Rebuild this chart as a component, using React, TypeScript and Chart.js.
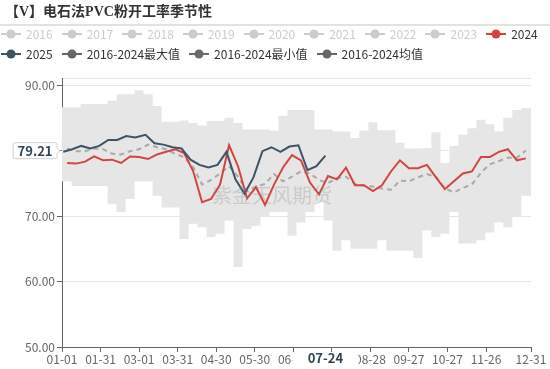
import React, { useEffect, useRef } from 'react';
import { Chart, registerables } from 'chart.js';

Chart.register(...registerables);

// ---------- data ----------
const titleText = '【V】电石法PVC粉开工率季节性';
const watermarkText = '紫金天风期货';

const legendRow1 = ['2016', '2017', '2018', '2019', '2020', '2021', '2022', '2023', '2024'];
const legendRow2 = ['2025', '2016-2024最大值', '2016-2024最小值', '2016-2024均值'];

const weeks2024 = [
  '01-05', '01-12', '01-19', '01-26', '02-02', '02-09', '02-16', '02-23', '03-01', '03-08',
  '03-15', '03-22', '03-29', '04-05', '04-12', '04-19', '04-26', '05-03', '05-10', '05-17',
  '05-24', '05-31', '06-07', '06-14', '06-21', '06-28', '07-05', '07-12', '07-19', '07-26',
  '08-02', '08-09', '08-16', '08-23', '08-30', '09-06', '09-13', '09-20', '09-27', '10-04',
  '10-11', '10-18', '10-25', '11-01', '11-08', '11-15', '11-22', '11-29', '12-06', '12-13',
  '12-20', '12-27',
];
const values2024 = [
  78.1, 78.0, 78.3, 79.1, 78.5, 78.6, 78.1, 79.1, 79.0, 78.7,
  79.4, 79.8, 80.2, 79.6, 76.9, 72.1, 72.6, 74.8, 80.8, 77.6,
  72.7, 74.4, 71.7, 74.8, 77.4, 79.3, 78.5, 75.1, 73.3, 76.1,
  75.6, 77.4, 74.7, 74.7, 73.8, 74.7, 76.8, 78.5, 77.3, 77.3,
  77.8, 75.9, 74.1, 75.3, 76.5, 76.8, 79.0, 79.0, 79.8, 80.2,
  78.5, 78.8,
];

const weeks2025 = [
  '01-02', '01-09', '01-16', '01-23', '01-30', '02-06', '02-13', '02-20', '02-27', '03-06',
  '03-13', '03-20', '03-27', '04-03', '04-10', '04-17', '04-24', '05-01', '05-08', '05-15',
  '05-22', '05-29', '06-05', '06-12', '06-19', '06-26', '07-03', '07-10', '07-17', '07-24',
];
const values2025 = [
  79.8, 80.2, 80.7, 80.3, 80.7, 81.6, 81.6, 82.2, 82.0, 82.4,
  81.1, 80.9, 80.5, 80.3, 78.6, 77.8, 77.4, 77.8, 79.8, 75.6,
  73.4, 75.9, 79.9, 80.5, 79.8, 80.6, 80.8, 77.0, 77.6, 79.21,
];

const avgValues = [
  80.3, 79.9, 79.9, 80.3, 80.2, 79.5, 79.4, 79.9, 80.2, 80.9,
  80.5, 80.2, 79.5, 79.0, 77.5, 74.8, 75.5, 76.5, 77.6, 76.0,
  73.8, 74.5, 74.9, 76.4, 75.3, 76.0, 76.8, 76.5, 75.5, 75.0,
  75.8, 76.0, 74.9, 74.6, 74.5, 74.2, 74.0, 75.4, 75.3, 75.9,
  76.4, 76.0, 74.2, 73.6, 74.3, 74.8, 76.6, 77.9, 78.4, 78.9,
  78.9, 80.0,
];

const bandStart = '01-01';
const bandEnd = '12-31';
const maxValues = [
  86.6, 86.6, 86.6, 87.1, 87.1, 87.1, 87.6, 88.6, 88.6, 89.2, 88.6,
  86.8, 84.4, 84.4, 84.6, 84.2, 83.8, 84.5, 84.5, 85.0, 84.2,
  83.2, 83.2, 83.2, 83.0, 85.3, 86.2, 86.2, 86.2, 83.2, 83.2,
  82.9, 82.9, 81.9, 83.0, 84.3, 83.1, 83.1, 81.2, 80.3, 80.3,
  80.4, 82.8, 78.1, 80.7, 82.4, 83.4, 84.7, 84.0, 82.9, 85.0,
  86.2, 86.5, 86.5,
];
const minValues = [
  75.3, 75.3, 74.6, 74.6, 74.6, 74.6, 71.8, 70.6, 72.6, 75.3, 75.3,
  73.1, 71.3, 71.3, 66.5, 68.8, 68.3, 66.8, 67.3, 69.3, 62.2,
  68.0, 68.5, 70.0, 70.6, 70.6, 67.0, 69.0, 70.6, 72.1, 69.3,
  64.7, 66.3, 65.0, 65.0, 65.0, 66.3, 64.7, 64.7, 64.7, 63.6,
  67.8, 66.8, 67.3, 70.6, 65.8, 65.8, 66.3, 67.5, 69.0, 68.3,
  70.0, 73.1, 73.1,
];

const xTickDays = [0, 30, 60, 90, 120, 150, 180, 210, 240, 270, 300, 330, 365];
const yTickValues = [50, 60, 70, 80, 90];
const yMin = 50;
const yMax = 91.07;

// ---------- helpers ----------
const DAY = 86400000;
const toDay = (mmdd: string) => {
  const [m, d] = mmdd.split('-').map(Number);
  return Math.round((Date.UTC(2024, m - 1, d) - Date.UTC(2024, 0, 1)) / DAY);
};
const dayLabel = (day: number) => {
  const dt = new Date(Date.UTC(2024, 0, 1) + Math.round(day) * DAY);
  return `${String(dt.getUTCMonth() + 1).padStart(2, '0')}-${String(dt.getUTCDate()).padStart(2, '0')}`;
};
const pts = (dates: string[], vals: number[]) => dates.map((d, i) => ({ x: toDay(d), y: vals[i] }));

const FONT = '"Noto Sans CJK SC", "Noto Sans", sans-serif';
const C2024 = '#d4443f';
const C2025 = '#3d5366';
const CAVG = '#a9a9a9';
const CBAND = '#e6e6e6';
const CHIDDEN = '#cccccc';

const overlayPlugin = {
  id: 'overlay',
  afterDatasetsDraw(chart: any) {
    const { ctx, chartArea } = chart;
    ctx.save();
    ctx.font = `20px ${FONT}`;
    ctx.fillStyle = 'rgba(140,140,140,0.3)';
    ctx.textAlign = 'center';
    ctx.textBaseline = 'middle';
    const x = chartArea.left + (chartArea.right - chartArea.left) * 0.448;
    const y = chartArea.top + (chartArea.bottom - chartArea.top) * 0.435;
    ctx.fillText(watermarkText, x, y);
    ctx.restore();
  },
  afterDraw(chart: any) {
    const { ctx, chartArea, scales } = chart;
    const lastVal = values2025[values2025.length - 1];
    const lastDate = weeks2025[weeks2025.length - 1];
    ctx.save();
    // y-axis value label
    const yy = scales.y.getPixelForValue(lastVal) - 5;
    const txt = lastVal.toFixed(2);
    ctx.font = `bold 13px ${FONT}`;
    const tw = ctx.measureText(txt).width;
    const right = chartArea.left - 5;
    const left = right - tw - 9;
    const h = 16;
    const top = yy - h / 2;
    const r = 2;
    ctx.beginPath();
    ctx.moveTo(left + r, top);
    ctx.lineTo(right - r, top);
    ctx.quadraticCurveTo(right, top, right, top + r);
    ctx.lineTo(right, yy - 3);
    ctx.lineTo(right + 3, yy);
    ctx.lineTo(right, yy + 3);
    ctx.lineTo(right, top + h - r);
    ctx.quadraticCurveTo(right, top + h, right - r, top + h);
    ctx.lineTo(left + r, top + h);
    ctx.quadraticCurveTo(left, top + h, left, top + h - r);
    ctx.lineTo(left, top + r);
    ctx.quadraticCurveTo(left, top, left + r, top);
    ctx.closePath();
    ctx.fillStyle = '#ffffff';
    ctx.fill();
    ctx.strokeStyle = '#d0d0d0';
    ctx.lineWidth = 1;
    ctx.stroke();
    ctx.fillStyle = '#2f4554';
    ctx.textAlign = 'center';
    ctx.textBaseline = 'middle';
    ctx.fillText(txt, (left + right) / 2, yy + 0.5);

    // x-axis date label
    const xx = scales.x.getPixelForValue(toDay(lastDate));
    ctx.fillStyle = '#ffffff';
    ctx.fillRect(xx - 33, chartArea.bottom + 5.5, 66, 16);
    ctx.font = `bold 13px ${FONT}`;
    ctx.fillStyle = '#2f4554';
    ctx.fillText(lastDate, xx, chartArea.bottom + 11);
    ctx.restore();
  },
};

const LegendItem = ({ label, color, textColor }: { label: string; color: string; textColor: string }) => (
  <div style={{ display: 'flex', alignItems: 'center', marginRight: 9, whiteSpace: 'nowrap', flexShrink: 0 }}>
    <svg width={20} height={14} style={{ marginRight: 5, display: 'block' }}>
      <line x1={0} y1={7} x2={20} y2={7} stroke={color} strokeWidth={2} />
      <circle cx={10} cy={7} r={4.5} fill={color} />
    </svg>
    <span style={{ fontSize: 12, color: textColor, lineHeight: '14px', fontFamily: FONT }}>{label}</span>
  </div>
);

const row1Color = (y: string) => (y === '2024' ? C2024 : CHIDDEN);
const row2Colors: Record<string, string> = {
  '2025': C2025,
  '2016-2024最大值': '#666666',
  '2016-2024最小值': '#6a6a6a',
  '2016-2024均值': '#666666',
};

export default function App() {
  const canvasRef = useRef<HTMLCanvasElement | null>(null);

  useEffect(() => {
    const canvas = canvasRef.current;
    if (!canvas) return;
    const bandDates = [bandStart, ...weeks2024, bandEnd];
    const chart = new Chart(canvas, {
      type: 'line',
      data: {
        datasets: [
          {
            label: '2025',
            data: pts(weeks2025, values2025),
            borderColor: C2025,
            borderWidth: 2,
            pointRadius: 0,
            fill: false,
            order: 1,
          },
          {
            label: '2024',
            data: pts(weeks2024, values2024),
            borderColor: C2024,
            borderWidth: 2,
            pointRadius: 0,
            fill: false,
            order: 2,
          },
          {
            label: '2016-2024均值',
            data: pts(weeks2024, avgValues),
            borderColor: CAVG,
            borderWidth: 2,
            borderDash: [5, 4],
            pointRadius: 0,
            fill: false,
            order: 3,
          },
          {
            label: '2016-2024最大值',
            data: pts(bandDates, maxValues),
            stepped: 'middle',
            borderColor: 'transparent',
            borderWidth: 0,
            pointRadius: 0,
            fill: false,
            order: 4,
          },
          {
            label: '2016-2024最小值',
            data: pts(bandDates, minValues),
            stepped: 'middle',
            borderColor: 'transparent',
            borderWidth: 0,
            pointRadius: 0,
            backgroundColor: CBAND,
            fill: '-1',
            order: 5,
          },
        ] as any,
      },
      options: {
        animation: false,
        responsive: false,
        devicePixelRatio: 1,
        layout: { padding: { top: 78, right: 19, left: 0, bottom: 0 } },
        plugins: {
          legend: { display: false },
          tooltip: { enabled: false },
          title: { display: false },
        },
        scales: {
          x: {
            type: 'linear',
            min: 0,
            max: 365,
            afterBuildTicks: (s: any) => {
              s.ticks = xTickDays.map((v) => ({ value: v }));
            },
            afterFit: (s: any) => {
              s.height = 22;
            },
            ticks: {
              autoSkip: false,
              maxRotation: 0,
              padding: 0,
              color: '#666666',
              font: { family: FONT, size: 12 },
              callback: (v: any) => dayLabel(Number(v)),
            },
            grid: {
              drawOnChartArea: false,
              drawTicks: true,
              tickLength: 5,
              tickColor: '#666666',
            },
            border: { display: true, color: '#666666', width: 1 },
          },
          y: {
            type: 'linear',
            min: yMin,
            max: yMax,
            afterBuildTicks: (s: any) => {
              s.ticks = [...yTickValues, yMax].map((v) => ({ value: v }));
            },
            afterFit: (s: any) => {
              s.width = 62;
            },
            ticks: {
              padding: 2,
              color: '#666666',
              font: { family: FONT, size: 12 },
              callback: (v: any) => (yTickValues.includes(Number(v)) ? Number(v).toFixed(2) : ''),
            },
            grid: {
              color: '#e6e6e6',
              lineWidth: 1,
              drawTicks: true,
              tickLength: 5,
              tickColor: (c: any) => (yTickValues.includes(c.tick?.value) ? '#666666' : 'transparent'),
            },
            border: { display: true, color: '#666666', width: 1 },
          },
        },
      } as any,
      plugins: [overlayPlugin],
    });
    return () => chart.destroy();
  }, []);

  return (
    <div style={{ position: 'fixed', left: 0, top: 0, width: 550, height: 369, background: '#fff', overflow: 'hidden' }}>
      <canvas ref={canvasRef} width={550} height={369} style={{ display: 'block', position: 'absolute', left: 0, top: 0 }} />
      <div
        style={{
          position: 'absolute',
          left: 5,
          top: 3,
          fontSize: 14,
          lineHeight: '18px',
          fontWeight: 'bold',
          color: '#333',
          fontFamily: '"Liberation Serif", "Noto Sans CJK SC", serif',
          whiteSpace: 'nowrap',
        }}
      >
        {titleText}
      </div>
      <div style={{ position: 'absolute', left: 0, top: 24, width: 550, height: 2, background: '#e2e2e2' }} />
      <div style={{ position: 'absolute', left: 1, top: 26.5, height: 14, display: 'flex' }}>
        {legendRow1.map((y) => (
          <LegendItem key={y} label={y} color={row1Color(y)} textColor={y === '2024' ? '#333' : CHIDDEN} />
        ))}
      </div>
      <div style={{ position: 'absolute', left: 1, top: 46.5, height: 14, display: 'flex' }}>
        {legendRow2.map((l) => (
          <LegendItem key={l} label={l} color={row2Colors[l]} textColor="#333" />
        ))}
      </div>
    </div>
  );
}
